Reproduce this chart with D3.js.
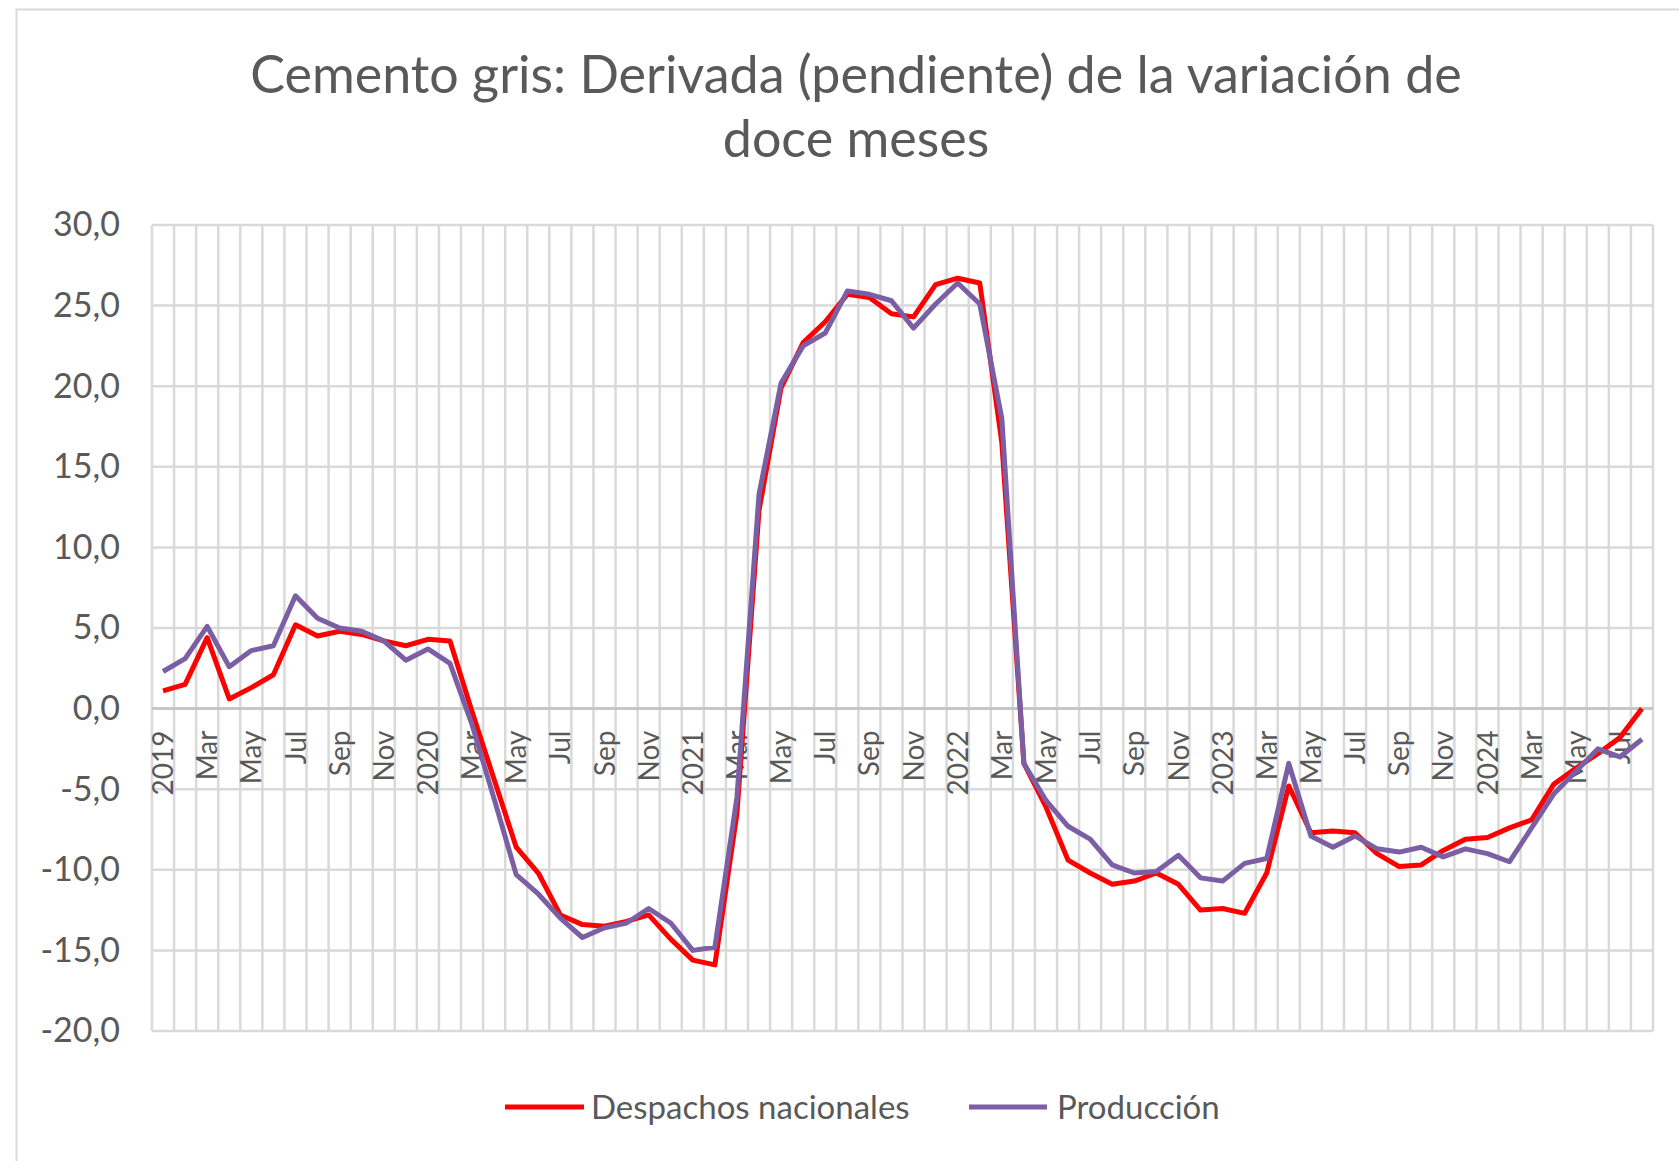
<!DOCTYPE html>
<html>
<head>
<meta charset="utf-8">
<script src="https://cdn.jsdelivr.net/npm/d3@7"></script>
<style>
  body { margin: 0; background: #fff; }
  svg { display: block; font-family: Lato, "Open Sans", sans-serif; }
</style>
</head>
<body>
<div id="chart"></div>
<script>
// Data (monthly, Jan 2019 - Aug 2024)
const years = [2019, 2020, 2021, 2022, 2023, 2024];
const monthNames = ["Jan", "Feb", "Mar", "Apr", "May", "Jun", "Jul", "Aug", "Sep", "Oct", "Nov", "Dec"];
const nMonths = 68;

const despachos = [
  1.1, 1.5, 4.4, 0.6, 1.3, 2.1, 5.2, 4.5, 4.8, 4.6, 4.2, 3.9,
  4.3, 4.2, -0.2, -4.4, -8.6, -10.2, -12.8, -13.4, -13.5, -13.2, -12.8, -14.3,
  -15.6, -15.9, -6.5, 12.3, 19.9, 22.7, 24.0, 25.7, 25.5, 24.5, 24.3, 26.3,
  26.7, 26.4, 16.5, -3.4, -6.1, -9.4, -10.2, -10.9, -10.7, -10.2, -10.9, -12.5,
  -12.4, -12.7, -10.2, -4.8, -7.7, -7.6, -7.7, -9.0, -9.8, -9.7, -8.8, -8.1,
  -8.0, -7.4, -6.9, -4.7, -3.7, -2.8, -1.8, 0.0
];
const produccion = [
  2.3, 3.1, 5.1, 2.6, 3.6, 3.9, 7.0, 5.6, 5.0, 4.8, 4.2, 3.0,
  3.7, 2.8, -1.0, -5.6, -10.3, -11.5, -13.0, -14.2, -13.6, -13.3, -12.4, -13.3,
  -15.0, -14.8, -5.5, 13.3, 20.2, 22.5, 23.3, 25.9, 25.7, 25.3, 23.6, 25.1,
  26.4, 25.1, 18.0, -3.4, -5.7, -7.3, -8.1, -9.7, -10.2, -10.1, -9.1, -10.5,
  -10.7, -9.6, -9.3, -3.4, -7.9, -8.6, -7.9, -8.7, -8.9, -8.6, -9.2, -8.7,
  -9.0, -9.5, -7.4, -5.3, -3.9, -2.5, -3.0, -1.9
];
const yTicks = [-20, -15, -10, -5, 0, 5, 10, 15, 20, 25, 30];
const seriesNames = ["Despachos nacionales", "Producción"];
const seriesColors = ["#ff0000", "#7b5fa5"];

// category labels: year for January, month abbreviation otherwise
const categories = d3.range(nMonths).map(i =>
  i % 12 === 0 ? String(years[i / 12]) : monthNames[i % 12]);

const width = 1679;
const height = 1161;
const plot = { left: 152, right: 1653, top: 225, bottom: 1031 };

const svg = d3.select("#chart").append("svg")
  .attr("width", width)
  .attr("height", height);

// chart area border
svg.append("rect")
  .attr("x", 16.5).attr("y", 9.5)
  .attr("width", width + 20).attr("height", height + 20)
  .attr("fill", "#fff")
  .attr("stroke", "#d9d9d9")
  .attr("stroke-width", 2);

// scales
const x = d3.scaleBand()
  .domain(d3.range(nMonths))
  .range([plot.left, plot.right])
  .paddingInner(0).paddingOuter(0);

const y = d3.scaleLinear()
  .domain([-20, 30])
  .range([plot.bottom, plot.top]);

// title
const title = svg.append("text")
  .attr("text-anchor", "middle")
  .attr("fill", "#595959")
  .attr("font-size", 52);
title.append("tspan").attr("x", 856).attr("y", 93)
  .text("Cemento gris: Derivada (pendiente) de la variación de");
title.append("tspan").attr("x", 856).attr("y", 157)
  .text("doce meses");

// horizontal gridlines
svg.append("g")
  .selectAll("line")
  .data(yTicks)
  .join("line")
  .attr("x1", plot.left).attr("x2", plot.right)
  .attr("y1", d => y(d)).attr("y2", d => y(d))
  .attr("stroke", "#d9d9d9")
  .attr("stroke-width", 2.5);

// vertical gridlines at category boundaries
const bounds = d3.range(nMonths + 1).map(i => i < nMonths ? x(i) : x(nMonths - 1) + x.bandwidth());
svg.append("g")
  .selectAll("line")
  .data(bounds)
  .join("line")
  .attr("x1", d => d).attr("x2", d => d)
  .attr("y1", plot.top).attr("y2", plot.bottom)
  .attr("stroke", "#d9d9d9")
  .attr("stroke-width", 2.5);

// y axis labels
const yAxis = d3.axisLeft(y)
  .tickValues(yTicks)
  .tickSize(0)
  .tickPadding(0)
  .tickFormat(d => d.toFixed(1).replace(".", ","));
const gy = svg.append("g")
  .attr("transform", `translate(${120},0)`)
  .call(yAxis);
gy.select(".domain").remove();
gy.selectAll("text")
  .attr("font-size", 34)
  .attr("font-family", "Lato, sans-serif")
  .attr("fill", "#595959");

// category axis crossing at zero
svg.append("line")
  .attr("x1", plot.left).attr("x2", plot.right)
  .attr("y1", y(0)).attr("y2", y(0))
  .attr("stroke", "#c6c6c6")
  .attr("stroke-width", 3);

// x axis labels (every other month, rotated)
svg.append("g")
  .selectAll("text")
  .data(d3.range(0, nMonths, 2))
  .join("text")
  .attr("transform", i => `translate(${x(i) + x.bandwidth() / 2},${y(0) + 22}) rotate(-90)`)
  .attr("text-anchor", "end")
  .attr("dy", "0.36em")
  .attr("font-size", 28)
  .attr("fill", "#595959")
  .text(i => categories[i]);

// lines
const line = d3.line()
  .x((d, i) => x(i) + x.bandwidth() / 2)
  .y(d => y(d));

[despachos, produccion].forEach((vals, k) => {
  svg.append("path")
    .datum(vals)
    .attr("fill", "none")
    .attr("stroke", seriesColors[k])
    .attr("stroke-width", 5)
    .attr("stroke-linejoin", "round")
    .attr("d", line);
});

// legend
const legendItems = [
  { x1: 505, x2: 584, tx: 591 },
  { x1: 969, x2: 1047, tx: 1057 }
];
const legendY = 1107;
const lg = svg.append("g");
legendItems.forEach((it, k) => {
  lg.append("line")
    .attr("x1", it.x1).attr("x2", it.x2)
    .attr("y1", legendY).attr("y2", legendY)
    .attr("stroke", seriesColors[k])
    .attr("stroke-width", 5);
  lg.append("text")
    .attr("x", it.tx).attr("y", legendY)
    .attr("dy", "0.35em")
    .attr("font-size", 33)
    .attr("fill", "#595959")
    .text(seriesNames[k]);
});
</script>
</body>
</html>
